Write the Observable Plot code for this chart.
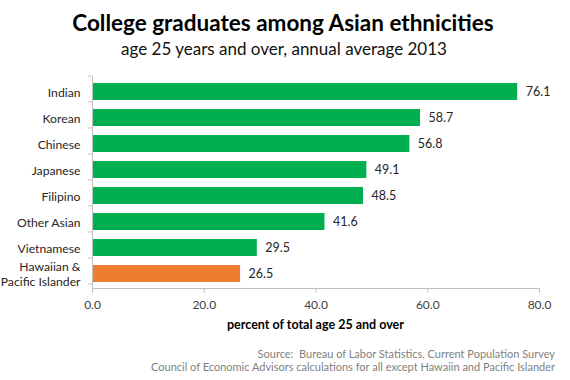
<!DOCTYPE html>
<html>
<head>
<meta charset="utf-8">
<script src="https://cdn.jsdelivr.net/npm/d3@7"></script>
<script src="https://cdn.jsdelivr.net/npm/@observablehq/plot@0.6"></script>
<style>
  html, body { margin: 0; padding: 0; background: #fff; }
  #wrap { position: relative; width: 570px; height: 380px; font-family: Lato, "Open Sans", sans-serif; overflow: hidden; }
  .t { position: absolute; white-space: nowrap; }
  #title { top: 9px; left: 0; width: 566px; line-height: 28px; text-align: center; font-size: 22.5px; font-weight: bold; color: #000; }
  #subtitle { top: 39px; left: 0; width: 568px; line-height: 20px; text-align: center; font-size: 17px; color: #111; }
  #xlabel { top: 317px; left: 227px; line-height: 15px; text-align: left; font-size: 12.5px; font-weight: bold; color: #000; }
  #src1 { top: 347px; right: 15px; line-height: 13px; font-size: 11px; color: #7f7f7f; text-align: right; }
  #src2 { top: 360px; right: 15px; line-height: 13px; font-size: 11px; color: #7f7f7f; text-align: right; }
</style>
</head>
<body>
<div id="wrap">
  <div id="chart"></div>
  <div class="t" id="title">College graduates among Asian ethnicities</div>
  <div class="t" id="subtitle">age 25 years and over, annual average 2013</div>
  <div class="t" id="xlabel">percent of total age 25 and over</div>
  <div class="t" id="src1">Source:&nbsp; Bureau of Labor Statistics, Current Population Survey</div>
  <div class="t" id="src2">Council of Economic Advisors calculations for all except Hawaiin and Pacific Islander</div>
</div>
<script>
const categories = ["Indian", "Korean", "Chinese", "Japanese", "Filipino", "Other Asian", "Vietnamese", "Hawaiian & Pacific Islander"];
const values = [76.1, 58.7, 56.8, 49.1, 48.5, 41.6, 29.5, 26.5];
const groups = ["Asian", "Asian", "Asian", "Asian", "Asian", "Asian", "Asian", "NHPI"];
const xTicks = [0, 20, 40, 60, 80];
const categoryLabels = {"Hawaiian & Pacific Islander": "Hawaiian &\nPacific Islander"};

const data = categories.map((c, i) => ({category: c, value: values[i], group: groups[i]}));

const plot = Plot.plot({
  width: 570,
  height: 380,
  marginLeft: 92,
  marginRight: 31,
  marginTop: 76,
  marginBottom: 92,
  style: {fontFamily: "Lato, 'Open Sans', sans-serif", fontSize: "12px", color: "#404040", background: "#fff"},
  x: {domain: [0, 80], ticks: xTicks, tickFormat: d => d.toFixed(1)},
  y: {domain: categories, paddingInner: 0.36, paddingOuter: 0.18},
  color: {domain: ["Asian", "NHPI"], range: ["#00b050", "#ed7d31"]},
  marks: [
    Plot.barX(data, {x: "value", y: "category", fill: "group"}),
    Plot.text(data, {x: "value", y: "category", text: d => d.value.toFixed(1), textAnchor: "start", dx: 8, fill: "#262626", fontSize: 12.5}),
    Plot.ruleX([0], {stroke: "#bfbfbf"}),
    Plot.frame({anchor: "bottom", stroke: "#bfbfbf"}),
    Plot.axisX({ticks: xTicks, tickFormat: d => d.toFixed(1), tickSize: 5, tickPadding: 7, stroke: "#bfbfbf", fill: "#404040", label: null, fontSize: 12}),
    Plot.axisY({tickSize: 0, tickPadding: 12, tickFormat: d => categoryLabels[d] ?? d, fill: "#262626", label: null, fontSize: 12.2, lineHeight: 1.2})
  ]
});

// small separator ticks on the y axis at category boundaries, from the library's band scale
const ys = plot.scale("y");
const step = ys.step;
const top0 = Math.min(...ys.range);
const svg = d3.select(plot.tagName === "svg" ? plot : plot.querySelector("svg"));
const bounds = d3.range(categories.length + 1).map(i => top0 + i * step);
svg.append("g").selectAll("line").data(bounds).join("line")
  .attr("x1", 88).attr("x2", 92)
  .attr("y1", d => d).attr("y2", d => d)
  .attr("stroke", "#bfbfbf");

document.getElementById("chart").appendChild(plot);
</script>
</body>
</html>
